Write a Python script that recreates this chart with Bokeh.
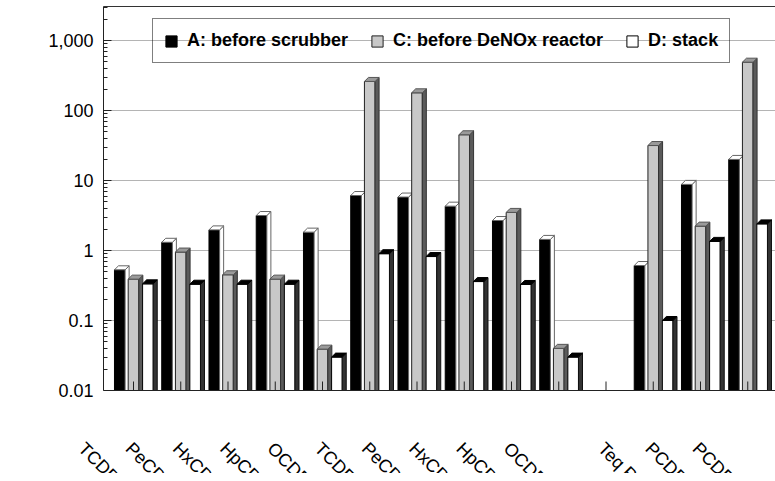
import math
from bokeh.plotting import figure
from bokeh.models import (Range1d, FixedTicker, LinearAxis, Legend, LegendItem,
                          ColumnDataSource)
from bokeh.core.properties import value
from bokeh.embed import file_html
from bokeh.resources import INLINE

# ---------------- data ----------------
categories = ["TCDD", "PeCDD", "HxCDD", "HpCDD", "OCDD",
              "TCDF", "PeCDF", "HxCDF", "HpCDF", "OCDF",
              "", "Teq PCDD/F", "PCDD", "PCDF"]
series_names = ["A: before scrubber", "C: before DeNOx reactor", "D: stack"]
values_A = [0.53, 1.31, 1.97, 3.16, 1.83, 6.1, 5.8, 4.3, 2.68, 1.44, None, 0.61, 8.8, 20.0]
values_C = [0.39, 0.95, 0.45, 0.39, 0.039, 260.0, 179.0, 45.0, 3.5, 0.040, None, 31.6, 2.23, 490.0]
values_D = [0.334, 0.33, 0.33, 0.33, 0.030, 0.90, 0.82, 0.36, 0.327, 0.030, None, 0.10, 1.35, 2.4]
ytick_values = [0.01, 0.1, 1, 10, 100, 1000]
ytick_labels = ["0.01", "0.1", "1", "10", "100", "1,000"]

# ---------------- styles ----------------
styles = [
    dict(offset=-0.29, front="#000000", front_line="#000000", top="#ffffff", top_line="#666666",
         side="#ffffff", side_line="#666666"),
    dict(offset=0.0, front="#c8c8c8", front_line="#222222", top="#9a9a9a", top_line="#555555",
         side="#5a5a5a", side_line="#333333"),
    dict(offset=0.305, front="#ffffff", front_line="#000000", top="#000000", top_line="#000000",
         side="#333333", side_line="#111111"),
]
bar_w = 0.225
depth_x = 0.085
depth_f = 10 ** (4 / 70)
tick_f = 10 ** (9 / 70)
floor = 0.001
FONT = "Liberation Sans"
W = 775
PITCH = 47.25      # px per category
C0 = 133           # px of first category centre
FRAME_L = 103

x_start = -(C0 - FRAME_L) / PITCH
x_end = (W - C0) / PITCH
y_start = 0.01
y_end = 10 ** (-2 + 384 / 70)

p = figure(width=W, height=400, x_range=Range1d(x_start, x_end), y_range=Range1d(y_start, y_end),
           y_axis_type="log", output_backend="svg", toolbar_location=None,
           min_border_left=FRAME_L, min_border_right=0, min_border_top=6, min_border_bottom=10)
p.outline_line_color = None
p.background_fill_color = "white"
p.border_fill_color = "white"

# y axis
minor = [k * 10.0 ** e for e in range(-2, 4) for k in range(2, 10)]
p.yaxis.ticker = FixedTicker(ticks=ytick_values, minor_ticks=minor)
p.yaxis.major_label_overrides = {v: l for v, l in zip(ytick_values, ytick_labels)}
p.yaxis.major_label_text_font = FONT
p.yaxis.major_label_text_font_size = "18px"
p.yaxis.major_label_text_color = "black"
p.yaxis.major_label_standoff = 10
p.yaxis.major_tick_in = 8
p.yaxis.major_tick_out = 0
p.yaxis.minor_tick_in = 4
p.yaxis.minor_tick_out = 0
p.yaxis.axis_line_color = "#222222"
p.yaxis.major_tick_line_color = "#222222"
p.yaxis.minor_tick_line_color = "#222222"
p.ygrid.ticker = FixedTicker(ticks=ytick_values)
p.ygrid.grid_line_color = "#b4b4b4"
p.xgrid.visible = False

# x axis (line only; ticks drawn as marks at the category centres)
p.xaxis.ticker = FixedTicker(ticks=[])
p.xaxis.major_tick_in = 0
p.xaxis.major_tick_out = 0
p.xaxis.major_label_standoff = 0
p.xaxis.axis_line_color = "#222222"

top_axis = LinearAxis(ticker=FixedTicker(ticks=[]), major_tick_in=0, major_tick_out=0,
                      major_label_standoff=0, axis_line_color="#333333")
p.add_layout(top_axis, "above")

legend_items = []
for name, vals, st in zip(series_names, [values_A, values_C, values_D], styles):
    xs_c, tops = [], []
    for i, v in enumerate(vals):
        if v is None:
            continue
        xs_c.append(i + st["offset"])
        tops.append(v)
    left = [x - bar_w / 2 for x in xs_c]
    right = [x + bar_w / 2 for x in xs_c]
    src = ColumnDataSource(dict(left=left, right=right, top=tops, bottom=[floor] * len(tops)))
    r = p.quad(left="left", right="right", top="top", bottom="bottom", source=src,
               fill_color=st["front"], line_color=st["front_line"], line_width=1)
    legend_items.append(LegendItem(label=name, renderers=[r]))
    top_xs = [[l, rr, rr + depth_x, l + depth_x] for l, rr in zip(left, right)]
    top_ys = [[t, t, t * depth_f, t * depth_f] for t in tops]
    side_xs = [[rr, rr, rr + depth_x, rr + depth_x] for rr in right]
    side_ys = [[floor, t, t * depth_f, floor] for t in tops]
    p.patches(xs=side_xs, ys=side_ys, fill_color=st["side"], line_color=st["side_line"], line_width=1)
    p.patches(xs=top_xs, ys=top_ys, fill_color=st["top"], line_color=st["top_line"], line_width=1)

# category tick marks (inside, on top of bars)
cat_idx = list(range(len(categories)))
p.segment(x0=cat_idx, y0=[y_start] * len(cat_idx), x1=cat_idx, y1=[y_start * tick_f] * len(cat_idx),
          line_color="#222222", line_width=1)

legend = Legend(items=legend_items, orientation="horizontal", location=(49, 327),
                label_text_font=FONT, label_text_font_style="bold", label_text_font_size="18px",
                label_text_color="black", glyph_width=14, glyph_height=14, label_standoff=9,
                spacing=22, padding=11, margin=0, border_line_color="black", border_line_width=1,
                background_fill_alpha=0)
p.add_layout(legend)

# ---------------- category labels (rotated, clipped at the bottom like the reference) ----------------
p2 = figure(width=W, height=73, x_range=Range1d(-C0 / PITCH, x_end), y_range=Range1d(-1, 0),
            output_backend="svg", toolbar_location=None, x_axis_location=None, y_axis_location=None,
            min_border_left=0, min_border_right=0, min_border_top=0, min_border_bottom=0)
p2.outline_line_color = None
p2.grid.visible = False
p2.background_fill_color = "white"
p2.border_fill_color = "white"
lab_src = ColumnDataSource(dict(x=cat_idx, y=[0] * len(cat_idx), text=categories))
p2.text(x="x", y="y", text="text", source=lab_src, angle=-math.pi / 4,
        text_align="left", text_baseline="top", x_offset=-45, y_offset=38,
        text_font=value(FONT), text_font_size="18px", text_color="black")

open("out.html", "w").write(file_html([p, p2], INLINE))
